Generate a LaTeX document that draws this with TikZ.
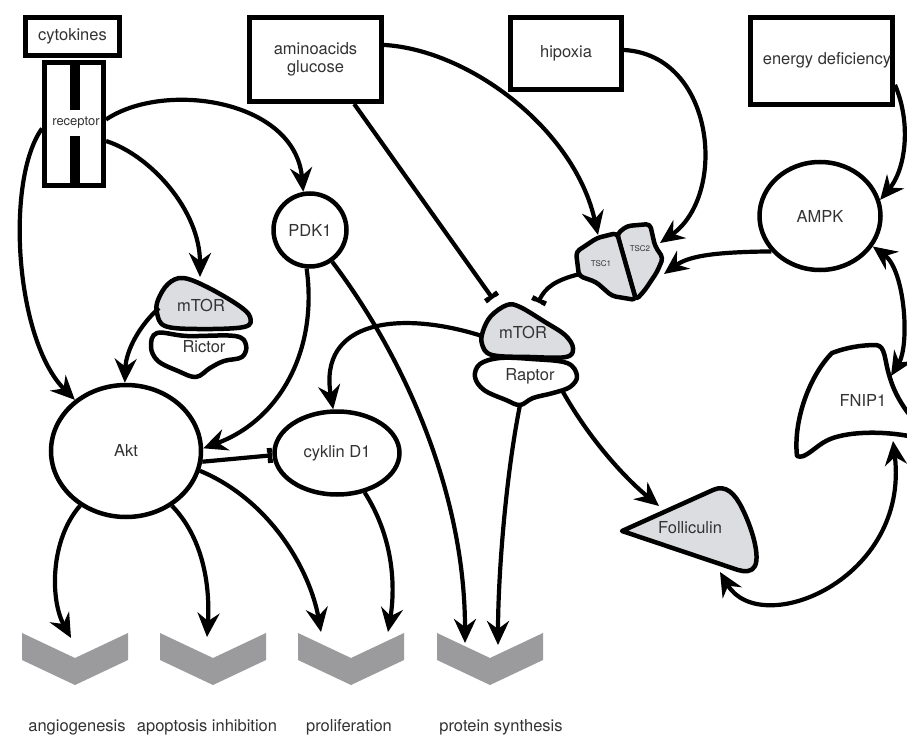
\documentclass[tikz,border=0pt]{standalone}
\usepackage{fontspec}
\setmainfont{TeX Gyre Heros}
\usetikzlibrary{arrows.meta,shapes.geometric}
\definecolor{txtc}{HTML}{333333}
\definecolor{blobgray}{HTML}{DCDDE0}
\definecolor{chevgray}{HTML}{9B9B9D}
\begin{document}
\begin{tikzpicture}[x=1pt,y=-1pt,
  txt/.style={font=\fontsize{16.5}{18}\selectfont, text=txtc},
  box/.style={draw, line width=5pt, inner sep=0pt, txt, align=center},
  conn/.style={line width=4.2pt, -{Stealth[length=24pt,width=22pt,inset=8pt]}},
  dconn/.style={line width=4.2pt, {Stealth[length=24pt,width=22pt,inset=8pt]}-{Stealth[length=24pt,width=22pt,inset=8pt]}},
  inh/.style={line width=4.2pt, -{Tee Barb[width=15pt,length=5pt]}},
  blob/.style={draw, line width=4.5pt, line join=round, fill=white},
  gblob/.style={blob, fill=blobgray},
  chev/.style={fill=chevgray, draw=none},
  round/.style={draw, line width=4.5pt, inner sep=0pt, txt, fill=white},
]
\useasboundingbox (0,0) rectangle (907,735);

% ---------- boxes ----------
\node[box, minimum width=94pt, minimum height=38pt] (cyto) at (72.5,36.5) {cytokines};
\node[draw, line width=5pt, inner sep=0pt, minimum width=59pt, minimum height=123pt] (rec) at (74,124) {};
\fill (70,62) rectangle (80,110);
\fill (70,136) rectangle (80,186);
\node[font=\fontsize{13}{14}\selectfont, text=txtc, inner sep=0pt] (rectxt) at (76,123) {receptor};
\node[box, minimum width=132pt, minimum height=84pt] (amino) at (315.5,59.5) {aminoacids\\glucose};
\node[box, minimum width=111pt, minimum height=72pt] (hip) at (566,53.5) {hipoxia};
\node[box, minimum width=142pt, minimum height=87pt] (energy) at (821.5,61) {};
\node[txt, inner sep=0pt] (energytxt) at (827,60) {energy deficiency};

% ---------- round nodes ----------
\node[round, circle, minimum size=73pt] (pdk) at (310,230) {PDK1};
\node[round, ellipse, minimum width=150pt, minimum height=132pt] (akt) at (126,451) {Akt};
\node[round, ellipse, minimum width=125pt, minimum height=83pt] (cyk) at (337,453) {cyklin D1};
\node[round, ellipse, minimum width=121pt, minimum height=108pt] (ampk) at (820,216) {AMPK};

% ---------- mTOR / Rictor ----------
\draw[blob] plot[smooth cycle, tension=0.6] coordinates {(157,333) (187,336) (235,336) (246,345) (242,357) (224,361) (210,368) (196,377) (178,371) (158,361) (151,347)};
\draw[gblob] plot[smooth cycle, tension=0.6] coordinates {(158,300) (168,284) (183,278) (207,287) (238,305) (250,317) (244,327) (197,329) (165,326) (157,313)};
\node[txt] (mtorL) at (201,305) {mTOR};
\node[txt] (rictor) at (204,347) {Rictor};

% ---------- mTOR / Raptor ----------
\draw[blob] plot[smooth cycle, tension=0.6] coordinates {(480,364) (500,358) (532,359) (567,363) (577,376) (570,387) (553,393) (533,398) (520,405) (506,400) (484,390) (475,377)};
\draw[gblob] plot[smooth cycle, tension=0.6] coordinates {(483,331) (491,316) (507,305) (520,307) (545,322) (565,335) (573,348) (566,357) (530,357) (492,355) (482,344)};
\node[txt] (mtorC) at (523,332) {mTOR};
\node[txt] (raptor) at (530,376) {Raptor};

% ---------- TSC ----------
\draw[gblob, rounded corners=4pt] (617,234) -- (627,226) -- (650,224) -- (655,246) -- (663,258) -- (657,272) -- (645,290) -- (636,300) -- cycle;
\draw[gblob, rounded corners=4pt] (576,252) -- (597,238) -- (617,233) -- (636,300) -- (612,296) -- (596,282) -- (579,276) -- cycle;
\node[font=\fontsize{8}{9}\selectfont, text=txtc] (tsc1) at (601,264) {TSC1};
\node[font=\fontsize{8}{9}\selectfont, text=txtc] (tsc2) at (640,249) {TSC2};

% ---------- FNIP1 ----------
\draw[blob] (797,456) .. controls (793,420) and (810,375) .. (832,353)
  .. controls (845,348) and (860,345) .. (876,345)
  .. controls (886,346) and (884,360) .. (890,378)
  .. controls (895,395) and (905,410) .. (914,420)
  -- (914,437)
  .. controls (880,430) and (845,432) .. (828,440)
  .. controls (815,446) and (805,460) .. (797,456) -- cycle;
\node[txt] (fnip) at (863,400) {FNIP1};

% ---------- Folliculin ----------
\draw[gblob] (622,531) -- (713,490) .. controls (726,484) and (735,494) .. (742,508)
  .. controls (752,528) and (760,555) .. (755,566)
  .. controls (752,572) and (745,572) .. (738,570) -- cycle;
\node[txt] (foll) at (690,528) {Folliculin};

% ---------- chevrons ----------
\foreach \x/\n in {22/1,160/2,298/3,437/4}{
  \fill[chev] (\x,633) -- (\x+53,658) -- (\x+106,633) -- (\x+106,660) -- (\x+53,685) -- (\x,660) -- cycle;
  \coordinate (chev\n) at (\x+53,658);
}
\node[txt, anchor=base] (lab1) at (77,731) {angiogenesis};
\node[txt, anchor=base] (lab2) at (207,731) {apoptosis inhibition};
\node[txt, anchor=base] (lab3) at (349,731) {proliferation};
\node[txt, anchor=base] (lab4) at (501,731) {protein synthesis};

% ---------- attachment points ----------
\coordinate (mtorLtop) at (200,277);
\coordinate (mtorLleft) at (159,308);
\coordinate (mtorCbar1) at (493,299);
\coordinate (mtorCbar2) at (538,303);
\coordinate (mtorCleft) at (482,336);
\coordinate (raptorB) at (520,405);
\coordinate (raptorR) at (563,392);
\coordinate (tsc1top) at (598,235);
\coordinate (tsc1left) at (580,274);
\coordinate (tsc2r1) at (660,243);
\coordinate (tsc2r2) at (664,274);
\coordinate (fnipTop) at (891,376);
\coordinate (fnipBot) at (893,441);
\coordinate (follTL) at (659,506);
\coordinate (follB) at (720,572);
\coordinate (in1) at (71,638);
\coordinate (in2) at (207,637);
\coordinate (in3a) at (321,632);
\coordinate (in3b) at (388,632);
\coordinate (in4a) at (465,643);
\coordinate (in4b) at (498,645);

% ---------- connectors ----------
\draw[conn] (rec.8) .. controls (165,80) and (295,100) .. (pdk.100);
\draw[conn] (rec.-28) .. controls (150,155) and (200,210) .. (mtorLtop);
\draw[conn] (rec.188) .. controls (5,180) and (15,340) .. (akt.135);
\draw[conn] (mtorLleft) .. controls (140,325) and (126,350) .. (akt.91);
\draw[conn] (pdk.-95) .. controls (318,350) and (280,420) .. (akt.2);
\draw[conn] (pdk.-55) .. controls (410,365) and (465,500) .. (in4a);
\draw[inh] (amino.-49) -- (mtorCbar1);
\draw[conn] (amino.12) .. controls (470,50) and (575,130) .. (tsc1top);
\draw[conn] (hip.east |- 0,50) .. controls (715,55) and (728,195) .. (tsc2r1);
\draw[conn] (energy.-18) .. controls (912,125) and (905,170) .. (ampk.15);
\draw[conn] (ampk.-144) .. controls (720,252) and (690,255) .. (tsc2r2);
\draw[dconn] (ampk.-30) .. controls (905,270) and (910,345) .. (fnipTop);
\draw[dconn] (fnipBot) .. controls (910,580) and (760,640) .. (follB);
\draw[conn] (mtorCleft) .. controls (400,310) and (318,320) .. (cyk.95);
\draw[inh] (tsc1left) .. controls (555,280) and (545,288) .. (mtorCbar2);
\draw[conn] (raptorB) .. controls (505,480) and (498,580) .. (in4b);
\draw[conn] (raptorR) .. controls (590,440) and (625,478) .. (follTL);
\draw[inh] (akt.-8) -- (cyk.182);
\draw[conn] (akt.-130) .. controls (50,540) and (50,600) .. (in1);
\draw[conn] (akt.-50) .. controls (205,540) and (210,590) .. (in2);
\draw[conn] (akt.-15) .. controls (270,500) and (310,570) .. (in3a);
\draw[conn] (cyk.-55) .. controls (395,540) and (395,590) .. (in3b);
\end{tikzpicture}
\end{document}
